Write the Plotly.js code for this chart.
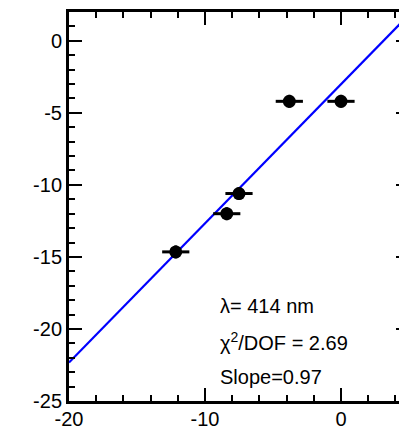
<!DOCTYPE html>
<html>
<head>
<meta charset="utf-8">
<script src="https://cdn.plot.ly/plotly-3.0.1.min.js"></script>
<style>
html, body { margin: 0; padding: 0; overflow: hidden; background: #fff; }
#chart { width: 420px; height: 440px; }
</style>
</head>
<body>
<div id="chart"></div>
<script>
// Data
const xVals = [-12.15, -8.4, -7.5, -3.8, 0.0];
const yVals = [-14.65, -12.0, -10.6, -4.2, -4.2];
const xErr = [1.0, 1.0, 1.0, 1.0, 1.0];
const yErr = [0.45, 0.45, 0.45, 0.45, 0.45];
const fitX = [-20, 5];
const fitY = [-22.33, 1.82];
const xTickVals = [-20, -10, 0];
const xTickText = ["-20", "-10", "0"];
const yTickVals = [-25, -20, -15, -10, -5, 0];
const yTickText = ["-25", "-20", "-15", "-10", "-5", "0"];
const labels = ["λ= 414 nm", "χ<sup>2</sup>/DOF = 2.69", "Slope=0.97"];

const font = { family: "Liberation Sans, Arial, sans-serif", size: 20, color: "#000" };

const traces = [
  {
    x: fitX, y: fitY, type: "scatter", mode: "lines",
    line: { color: "#0000ff", width: 2.2 }, hoverinfo: "skip"
  },
  {
    x: xVals, y: yVals, type: "scatter", mode: "markers",
    marker: { color: "#000", size: 13, symbol: "circle" },
    error_x: { type: "data", array: xErr, visible: true, color: "#000", thickness: 3, width: 0 },
    error_y: { type: "data", array: yErr, visible: true, color: "#000", thickness: 3, width: 0 }
  }
];

const layout = {
  width: 420, height: 440,
  margin: { l: 69, r: 11, t: 12, b: 39 },
  showlegend: false,
  paper_bgcolor: "#fff", plot_bgcolor: "#fff",
  font: font,
  xaxis: {
    range: [-20, 5], showgrid: false, zeroline: false,
    showline: true, linecolor: "#000", linewidth: 3, mirror: "allticks",
    ticks: "inside", tickvals: xTickVals, ticktext: xTickText, ticklen: 13, tickwidth: 2, tickcolor: "#000",
    minor: { dtick: 2, tick0: 0, ticks: "inside", ticklen: 6, tickwidth: 2, tickcolor: "#000" },
    tickfont: font, ticklabelstandoff: -2
  },
  yaxis: {
    range: [-25, 2], showgrid: false, zeroline: false,
    showline: true, linecolor: "#000", linewidth: 3, mirror: "allticks",
    ticks: "inside", tickvals: yTickVals, ticktext: yTickText, ticklen: 13, tickwidth: 2, tickcolor: "#000",
    minor: { dtick: 1, tick0: 0, ticks: "inside", ticklen: 6, tickwidth: 2, tickcolor: "#000" },
    tickfont: font, ticklabelstandoff: 0
  },
  annotations: [
    { x: -9.05, y: -18.42, xref: "x", yref: "y", text: labels[0], showarrow: false, xanchor: "left", yanchor: "middle", font: font },
    { x: -9.05, y: -20.85, xref: "x", yref: "y", text: labels[1], showarrow: false, xanchor: "left", yanchor: "middle", font: font },
    { x: -9.05, y: -23.33, xref: "x", yref: "y", text: labels[2], showarrow: false, xanchor: "left", yanchor: "middle", font: font }
  ]
};

Plotly.newPlot("chart", traces, layout, { staticPlot: true, displayModeBar: false });
</script>
</body>
</html>
